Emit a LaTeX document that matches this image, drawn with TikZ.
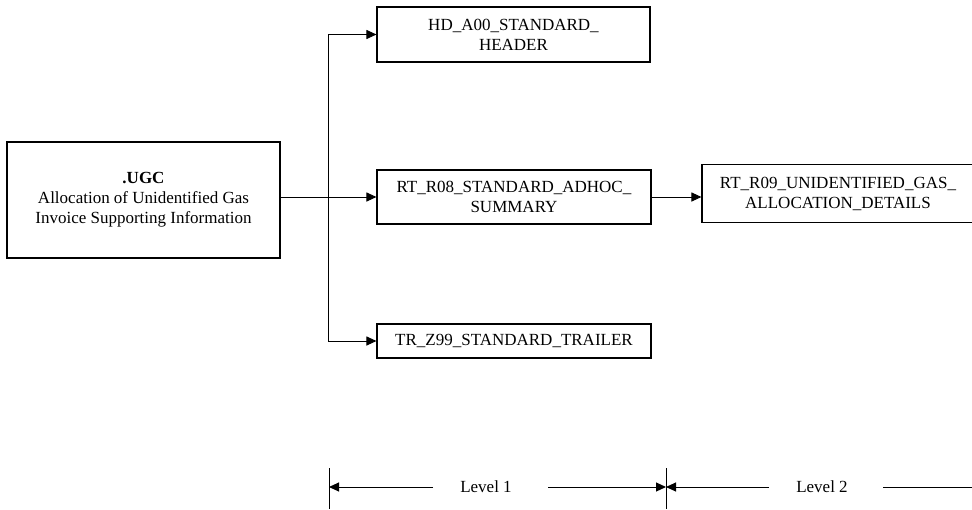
\documentclass[tikz,border=0pt]{standalone}
\usepackage{fontspec}
\setmainfont{Liberation Serif}
\usetikzlibrary{arrows.meta}
\begin{document}
\begin{tikzpicture}[x=1pt,y=-1pt,
  box/.style={draw,line width=1.1pt,inner sep=0pt,align=center,font=\fontsize{17}{20}\selectfont},
  arr/.style={line width=1pt,-{Triangle[length=10pt,width=9pt]}},
  ln/.style={line width=1pt},
  lbl/.style={font=\fontsize{17}{20}\selectfont,inner sep=0pt}]
\useasboundingbox (0,0) rectangle (972,509);
\node[box,minimum width=273pt,minimum height=116pt] (ugc) at (143.5,200)
  {\textbf{.UGC}\\Allocation of Unidentified Gas\\Invoice Supporting Information};
\node[box,minimum width=273pt,minimum height=55pt] (hd) at (513.5,34.5)
  {HD\_A00\_STANDARD\_\\HEADER};
\node[box,minimum width=274pt,minimum height=54pt] (r08) at (514,197)
  {RT\_R08\_STANDARD\_ADHOC\_\\SUMMARY};
\node[box,minimum width=272pt,minimum height=58pt] (r09) at (838,193.5)
  {RT\_R09\_UNIDENTIFIED\_GAS\_\\ALLOCATION\_DETAILS};
\node[box,minimum width=274pt,minimum height=34pt] (tz) at (514,341)
  {TR\_Z99\_STANDARD\_TRAILER};
\coordinate (trunk) at (328,0);
\draw[ln] (trunk |- hd.west) -- (trunk |- tz.west);
\draw[arr] (trunk |- hd.west) -- (hd.west);
\draw[arr] (trunk |- tz.west) -- (tz.west);
\draw[arr] (ugc.east |- r08.west) -- (r08.west);
\draw[arr] (r08.east) -- (r08.east -| r09.west);
% levels
\coordinate (ta) at (329,468);
\coordinate (tb) at (666,468);
\draw[ln] (ta) -- (329,509);
\draw[ln] (tb) -- (666,509);
\node[lbl] (l1) at (486,487) {Level 1};
\node[lbl] (l2) at (822,487) {Level 2};
\coordinate (a1s) at (433,487);
\coordinate (a1e) at (548,487);
\coordinate (a2s) at (769,487);
\coordinate (a2e) at (883,487);
\draw[arr] (a1s) -- (ta |- a1s);
\draw[arr] (a1e) -- (tb |- a1e);
\draw[arr] (a2s) -- (tb |- a2s);
\draw[ln] (a2e) -- (972,487);
\end{tikzpicture}
\end{document}
